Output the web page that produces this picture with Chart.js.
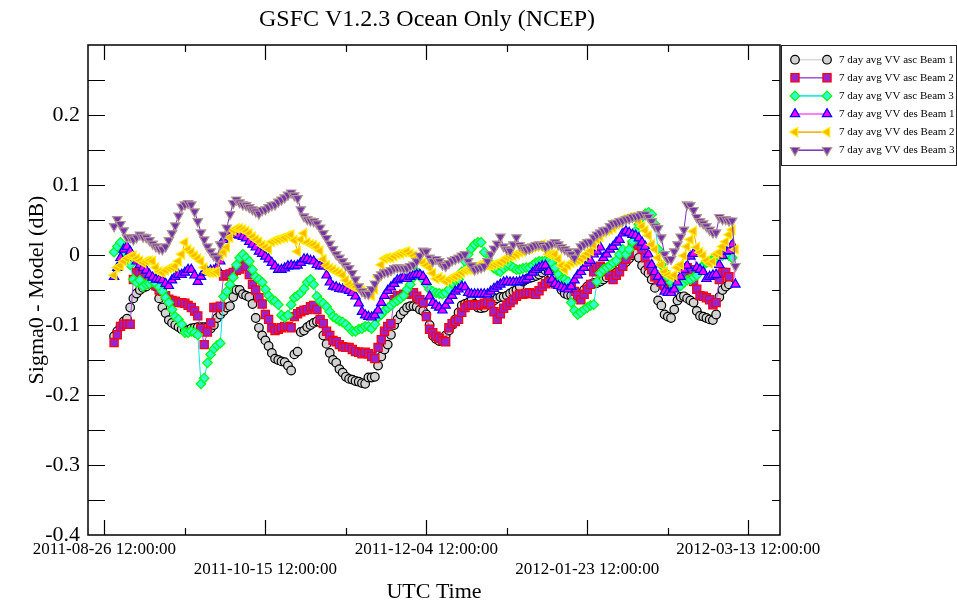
<!DOCTYPE html>
<html>
<head>
<meta charset="utf-8">
<title>GSFC V1.2.3 Ocean Only (NCEP)</title>
<script src="https://cdn.jsdelivr.net/npm/chart.js"></script>
<style>
  body { margin: 0; background: #fff; }
  canvas { display: block; }
</style>
</head>
<body>
<canvas id="myChart" width="957" height="601"></canvas>
<script>
// tick labels on the time axis
const xTickLabels = ["2011-08-26 12:00:00", "2011-10-15 12:00:00", "2011-12-04 12:00:00",
  "2012-01-23 12:00:00", "2012-03-13 12:00:00"];
// first daily sample of every series
const startDate = "2011-08-29 12:00:00";

const seriesNames = ["7 day avg VV asc Beam 1", "7 day avg VV asc Beam 2", "7 day avg VV asc Beam 3",
  "7 day avg VV des Beam 1", "7 day avg VV des Beam 2", "7 day avg VV des Beam 3"];

// daily values (dB)
const ascBeam1 = [-0.116,-0.109,-0.102,-0.095,-0.091,-0.075,-0.062,-0.055,-0.05,-0.047,
  -0.045,-0.041,-0.038,-0.045,-0.062,-0.075,-0.083,-0.093,-0.097,-0.1,
  -0.103,-0.106,-0.108,-0.107,-0.105,-0.104,-0.103,-0.103,-0.103,-0.103,
  -0.105,-0.1,-0.09,-0.085,-0.08,-0.075,-0.073,-0.06,-0.05,-0.05,
  -0.056,-0.058,-0.06,-0.07,-0.09,-0.104,-0.115,-0.122,-0.13,-0.14,
  -0.148,-0.15,-0.152,-0.153,-0.158,-0.165,-0.142,-0.138,-0.11,-0.108,
  -0.103,-0.1,-0.097,-0.095,-0.096,-0.115,-0.127,-0.14,-0.15,-0.154,
  -0.163,-0.168,-0.174,-0.177,-0.178,-0.18,-0.181,-0.183,-0.184,-0.175,
  -0.175,-0.174,-0.158,-0.145,-0.135,-0.128,-0.114,-0.1,-0.092,-0.085,
  -0.08,-0.075,-0.073,-0.073,-0.074,-0.078,-0.08,-0.085,-0.1,-0.115,
  -0.12,-0.123,-0.12,-0.115,-0.108,-0.1,-0.092,-0.082,-0.072,-0.07,
  -0.068,-0.065,-0.07,-0.075,-0.076,-0.075,-0.07,-0.068,-0.065,-0.062,
  -0.06,-0.06,-0.058,-0.055,-0.052,-0.05,-0.045,-0.038,-0.035,-0.033,
  -0.032,-0.03,-0.028,-0.025,-0.022,-0.025,-0.028,-0.03,-0.04,-0.05,
  -0.055,-0.057,-0.058,-0.06,-0.058,-0.055,-0.05,-0.045,-0.042,-0.04,
  -0.04,-0.038,-0.035,-0.032,-0.03,-0.028,-0.025,-0.02,-0.015,-0.01,
  -0.005,0.0,0.002,-0.004,-0.015,-0.022,-0.026,-0.035,-0.047,-0.065,
  -0.072,-0.085,-0.088,-0.09,-0.078,-0.065,-0.06,-0.059,-0.062,-0.065,
  -0.068,-0.08,-0.087,-0.088,-0.09,-0.092,-0.093,-0.085,-0.06,-0.05,-0.045,-0.042];

const ascBeam2 = [-0.125,-0.114,-0.102,-0.099,-0.099,-0.099,-0.035,-0.025,-0.025,-0.029,
  -0.032,-0.036,-0.04,-0.044,-0.05,-0.052,-0.058,-0.063,-0.065,-0.066,
  -0.068,-0.068,-0.069,-0.072,-0.075,-0.08,-0.087,-0.105,-0.128,-0.11,
  -0.097,-0.075,-0.075,-0.073,-0.03,-0.028,-0.027,-0.025,-0.022,-0.02,
  -0.009,-0.016,-0.028,-0.042,-0.05,-0.061,-0.07,-0.085,-0.092,-0.104,
  -0.108,-0.106,-0.104,-0.102,-0.102,-0.104,-0.088,-0.084,-0.081,-0.079,
  -0.078,-0.074,-0.072,-0.078,-0.092,-0.098,-0.109,-0.115,-0.122,-0.124,
  -0.128,-0.131,-0.132,-0.132,-0.135,-0.138,-0.139,-0.141,-0.139,-0.141,
  -0.145,-0.148,-0.132,-0.121,-0.109,-0.102,-0.098,-0.064,-0.058,-0.058,
  -0.056,-0.056,-0.054,-0.054,-0.059,-0.064,-0.068,-0.088,-0.106,-0.111,
  -0.116,-0.119,-0.122,-0.124,-0.104,-0.098,-0.095,-0.092,-0.082,-0.075,
  -0.072,-0.071,-0.072,-0.072,-0.071,-0.069,-0.068,-0.071,-0.081,-0.092,
  -0.084,-0.076,-0.072,-0.068,-0.064,-0.059,-0.056,-0.056,-0.055,-0.054,
  -0.055,-0.056,-0.051,-0.045,-0.041,-0.038,-0.039,-0.041,-0.041,-0.039,
  -0.038,-0.042,-0.046,-0.052,-0.058,-0.064,-0.056,-0.049,-0.042,-0.024,
  -0.018,-0.016,-0.018,-0.024,-0.029,-0.035,-0.029,-0.024,-0.016,-0.006,
  0.002,0.014,0.022,0.015,0.008,-0.004,-0.014,-0.021,-0.031,-0.035,
  -0.039,-0.044,-0.048,-0.049,-0.045,-0.041,-0.035,-0.026,-0.018,-0.021,
  -0.038,-0.049,-0.058,-0.059,-0.061,-0.064,-0.071,-0.068,-0.035,-0.025,-0.025,-0.031];

const ascBeam3 = [0.004,0.012,0.018,0.005,-0.004,-0.014,-0.035,-0.039,-0.036,-0.045,
  -0.042,-0.041,-0.038,-0.041,-0.046,-0.052,-0.061,-0.068,-0.078,-0.088,
  -0.092,-0.099,-0.111,-0.111,-0.109,-0.111,-0.114,-0.184,-0.176,-0.154,
  -0.142,-0.134,-0.129,-0.126,-0.059,-0.052,-0.042,-0.032,-0.014,-0.004,
  0.001,-0.004,-0.009,-0.021,-0.031,-0.035,-0.039,-0.049,-0.058,-0.064,
  -0.066,-0.071,-0.086,-0.089,-0.086,-0.071,-0.061,-0.058,-0.054,-0.048,
  -0.039,-0.035,-0.042,-0.059,-0.066,-0.069,-0.074,-0.081,-0.088,-0.091,
  -0.094,-0.096,-0.099,-0.104,-0.109,-0.109,-0.106,-0.105,-0.102,-0.102,
  -0.105,-0.099,-0.089,-0.085,-0.079,-0.076,-0.072,-0.068,-0.065,-0.062,
  -0.058,-0.049,-0.042,-0.032,-0.024,-0.028,-0.035,-0.042,-0.049,-0.052,
  -0.054,-0.055,-0.056,-0.054,-0.049,-0.041,-0.036,-0.035,-0.024,-0.009,
  0.001,0.009,0.015,0.018,0.018,0.004,-0.008,-0.015,-0.019,-0.022,
  -0.024,-0.019,-0.016,-0.015,-0.018,-0.021,-0.021,-0.019,-0.018,-0.018,
  -0.015,-0.011,-0.009,-0.009,-0.008,-0.008,-0.011,-0.018,-0.028,-0.035,
  -0.035,-0.038,-0.068,-0.079,-0.085,-0.082,-0.078,-0.075,-0.072,-0.071,
  -0.038,-0.026,-0.021,-0.018,-0.015,-0.011,-0.008,0.001,0.008,0.001,
  0.008,0.019,0.034,0.044,0.054,0.059,0.061,0.058,0.044,0.008,
  -0.014,-0.024,-0.032,-0.039,-0.045,-0.046,-0.044,-0.039,-0.036,-0.035,
  -0.032,-0.029,-0.021,-0.015,-0.011,-0.009,-0.006,-0.004,-0.002,-0.001,0.001,-0.001,-0.004];

const desBeam1 = [-0.031,-0.018,-0.004,0.008,0.012,0.005,-0.004,-0.009,-0.014,-0.018,
  -0.022,-0.028,-0.032,-0.035,-0.035,-0.036,-0.041,-0.044,-0.036,-0.031,
  -0.028,-0.028,-0.025,-0.021,-0.021,-0.029,-0.038,-0.031,-0.025,-0.024,
  -0.022,-0.022,-0.018,-0.009,0.022,0.026,0.029,0.031,0.029,0.028,
  0.026,0.024,0.019,0.015,0.011,0.005,0.002,-0.002,-0.006,-0.011,
  -0.016,-0.021,-0.021,-0.019,-0.016,-0.015,-0.016,-0.015,-0.011,-0.006,
  -0.006,-0.008,-0.009,-0.014,-0.016,-0.016,-0.029,-0.039,-0.045,-0.046,
  -0.048,-0.049,-0.049,-0.051,-0.054,-0.059,-0.069,-0.081,-0.086,-0.088,
  -0.089,-0.086,-0.079,-0.068,-0.058,-0.051,-0.046,-0.041,-0.036,-0.034,
  -0.032,-0.034,-0.031,-0.029,-0.028,-0.028,-0.031,-0.038,-0.059,-0.068,
  -0.072,-0.075,-0.079,-0.072,-0.065,-0.058,-0.052,-0.049,-0.045,-0.046,
  -0.054,-0.056,-0.056,-0.056,-0.056,-0.056,-0.056,-0.052,-0.048,-0.045,
  -0.042,-0.039,-0.038,-0.039,-0.039,-0.039,-0.038,-0.036,-0.035,-0.031,
  -0.025,-0.021,-0.018,-0.016,-0.015,-0.024,-0.035,-0.041,-0.044,-0.046,
  -0.048,-0.049,-0.045,-0.036,-0.029,-0.024,-0.018,-0.012,-0.008,0.001,
  0.005,0.011,-0.004,0.001,0.008,0.012,0.018,0.022,0.031,0.034,
  0.032,0.029,0.028,0.024,0.018,0.012,0.001,-0.014,-0.024,-0.031,
  -0.039,-0.052,-0.054,-0.054,-0.049,-0.039,-0.031,-0.021,-0.015,-0.002,
  0.002,-0.018,-0.021,-0.024,-0.034,-0.031,-0.029,-0.028,-0.014,-0.001,0.005,0.006,0.015,-0.042];

const desBeam2 = [-0.029,-0.018,-0.015,-0.009,-0.005,-0.002,-0.001,-0.005,-0.008,-0.011,
  -0.009,-0.008,-0.009,-0.018,-0.024,-0.025,-0.022,-0.019,-0.018,-0.016,
  -0.009,0.001,0.018,0.008,0.004,-0.001,-0.005,-0.009,-0.018,-0.025,
  -0.025,-0.025,-0.024,-0.001,0.004,0.011,0.025,0.035,0.038,0.038,
  0.036,0.034,0.031,0.026,0.022,0.019,0.014,0.011,0.008,0.019,
  0.021,0.022,0.024,0.025,0.028,0.029,0.021,0.005,0.022,0.031,
  0.018,0.015,0.014,0.011,0.006,-0.006,-0.015,-0.019,-0.021,-0.024,
  -0.026,-0.029,-0.036,-0.042,-0.045,-0.046,-0.049,-0.051,-0.054,-0.056,
  -0.058,-0.049,-0.031,-0.014,-0.005,-0.004,-0.004,-0.002,0.001,0.002,
  0.004,0.005,0.002,-0.001,-0.004,-0.006,-0.011,-0.015,-0.018,-0.026,
  -0.034,-0.032,-0.035,-0.038,-0.035,-0.032,-0.031,-0.028,-0.025,-0.022,
  -0.021,-0.021,-0.018,-0.015,-0.014,-0.014,-0.015,-0.015,-0.014,-0.012,
  -0.011,-0.008,-0.004,-0.002,-0.001,0.001,0.004,0.005,0.008,0.009,
  0.011,0.012,0.014,0.015,0.008,0.001,0.001,0.001,-0.006,-0.015,
  -0.021,-0.015,-0.011,-0.009,-0.008,-0.006,-0.002,0.002,0.006,0.014,
  0.022,0.026,0.032,0.035,0.036,0.039,0.044,0.046,0.051,0.052,
  0.054,0.054,0.054,0.048,0.041,0.035,0.028,0.015,0.008,-0.004,
  -0.014,-0.024,-0.029,-0.031,-0.029,-0.018,-0.014,-0.001,0.012,0.022,
  0.034,0.011,0.004,-0.001,-0.008,-0.012,-0.009,0.001,0.004,0.012,0.019,0.029,0.036,0.008];

const desBeam3 = [0.041,0.051,0.044,0.035,0.025,0.025,0.022,0.025,0.029,0.026,
  0.025,0.021,0.016,0.012,0.009,0.008,0.012,0.021,0.031,0.042,
  0.056,0.069,0.072,0.074,0.072,0.062,0.048,0.032,0.022,0.012,
  0.005,-0.001,-0.005,0.015,0.029,0.039,0.058,0.074,0.079,0.075,
  0.072,0.071,0.068,0.065,0.062,0.059,0.064,0.065,0.068,0.071,
  0.072,0.076,0.079,0.082,0.086,0.089,0.085,0.081,0.065,0.055,
  0.051,0.049,0.048,0.045,0.039,0.031,0.024,0.016,0.008,0.001,
  -0.004,-0.009,-0.015,-0.019,-0.026,-0.035,-0.045,-0.052,-0.055,-0.056,
  -0.049,-0.041,-0.032,-0.028,-0.025,-0.024,-0.022,-0.019,-0.018,-0.018,
  -0.019,-0.019,-0.016,-0.014,-0.009,-0.001,0.006,0.005,-0.004,-0.009,
  -0.006,-0.009,-0.014,-0.016,-0.012,-0.008,-0.006,-0.004,-0.001,0.001,
  -0.009,-0.015,-0.021,-0.019,-0.018,-0.016,-0.009,0.001,0.009,0.016,
  0.026,0.012,0.008,0.006,0.015,0.025,0.014,0.011,0.008,0.009,
  0.012,0.014,0.015,0.014,0.011,0.014,0.016,0.018,0.015,0.011,
  0.008,0.005,0.001,-0.004,0.005,0.012,0.015,0.018,0.019,0.025,
  0.029,0.032,0.035,0.036,0.041,0.045,0.046,0.048,0.049,0.051,
  0.052,0.054,0.055,0.056,0.058,0.058,0.054,0.048,0.041,0.038,
  0.025,0.001,-0.006,-0.006,0.005,0.015,0.026,0.036,0.072,0.071,
  0.064,0.054,0.048,0.045,0.041,0.036,0.032,0.032,0.054,0.051,0.051,0.049,0.049,-0.016];

const DAY = 86400000;
const FONT = "'Liberation Serif', 'DejaVu Serif', serif";

function parseUtc(s) {
  const [d, t] = s.split(" ");
  const [Y, M, D] = d.split("-").map(Number);
  const [h, m, sec] = t.split(":").map(Number);
  return Date.UTC(Y, M - 1, D, h, m, sec);
}

const xTickValues = xTickLabels.map(parseUtc);
const t0 = parseUtc(startDate);

// turn a daily list into {x, y} points
function toPoints(values) {
  return values.map((v, i) => ({ x: t0 + i * DAY, y: v }));
}

// marker / line styles per series
const styles = [
  { line: "#d8d8d8", fill: "#d3d3d3", edge: "#000000", shape: "circle", r: 4.3, rot: 0 },
  { line: "#a050d8", fill: "#9a22d0", edge: "#ff0000", shape: "rect", r: 5.8, rot: 0 },
  { line: "#00e8e8", fill: "#30ffd0", edge: "#00ff00", shape: "rectRot", r: 4.8, rot: 0 },
  { line: "#ff55ff", fill: "#ff00ff", edge: "#0000ff", shape: "triangle", r: 5.4, rot: 0 },
  { line: "#ffa500", fill: "#ffb800", edge: "#ffee00", shape: "triangle", r: 5.4, rot: -90 },
  { line: "#7a2ec0", fill: "#7434a8", edge: "#b09494", shape: "triangle", r: 5.4, rot: 180 }
];

const allSeries = [ascBeam1, ascBeam2, ascBeam3, desBeam1, desBeam2, desBeam3];

const datasets = allSeries.map((vals, i) => ({
  label: seriesNames[i],
  data: toPoints(vals),
  borderColor: styles[i].line,
  backgroundColor: styles[i].fill,
  borderWidth: 1,
  pointStyle: styles[i].shape,
  pointRadius: styles[i].r,
  pointRotation: styles[i].rot,
  pointBackgroundColor: styles[i].fill,
  pointBorderColor: styles[i].edge,
  pointBorderWidth: 1.2,
  tension: 0,
  order: 6 - i
}));

// draw one marker the same way the chart does
function drawMarker(ctx, st, x, y) {
  const r = st.r;
  ctx.save();
  ctx.fillStyle = st.fill;
  ctx.strokeStyle = st.edge;
  ctx.lineWidth = 1.2;
  ctx.beginPath();
  if (st.shape === "circle") {
    ctx.arc(x, y, r, 0, Math.PI * 2);
  } else if (st.shape === "rect") {
    const s = r * Math.SQRT1_2;
    ctx.rect(x - s, y - s, 2 * s, 2 * s);
  } else if (st.shape === "rectRot") {
    ctx.moveTo(x, y - r); ctx.lineTo(x + r, y); ctx.lineTo(x, y + r); ctx.lineTo(x - r, y);
    ctx.closePath();
  } else {
    let a = st.rot * Math.PI / 180;
    for (let k = 0; k < 3; k++) {
      const px = x + Math.sin(a) * r, py = y - Math.cos(a) * r;
      if (k === 0) ctx.moveTo(px, py); else ctx.lineTo(px, py);
      a += Math.PI * 2 / 3;
    }
    ctx.closePath();
  }
  ctx.fill();
  ctx.stroke();
  ctx.restore();
}

// frame with inward ticks on all four sides
const frameTicks = {
  id: "frameTicks",
  afterDatasetsDraw(chart) {
    const { ctx, chartArea: a, scales: { x, y } } = chart;
    ctx.save();
    ctx.strokeStyle = "#000";
    ctx.lineWidth = 1.2;
    ctx.beginPath();
    for (let k = -8; k <= 6; k++) {
      const py = Math.round(y.getPixelForValue(k * 0.05)) + 0.5;
      if (py <= a.top + 1 || py >= a.bottom - 1) continue;
      const major = k % 2 === 0;
      ctx.moveTo(a.left, py); ctx.lineTo(a.left + 17, py);
      ctx.moveTo(a.right, py); ctx.lineTo(a.right - (major ? 17 : 8), py);
    }
    for (let k = -2; k <= 10; k++) {
      const v = xTickValues[0] + k * 25 * DAY;
      const px = Math.round(x.getPixelForValue(v)) + 0.5;
      if (px <= a.left + 1 || px >= a.right - 1) continue;
      const len = k % 2 === 0 ? 15 : 7;
      ctx.moveTo(px, a.bottom); ctx.lineTo(px, a.bottom - len);
      ctx.moveTo(px, a.top); ctx.lineTo(px, a.top + len);
    }
    ctx.stroke();
    ctx.lineWidth = 1.5;
    ctx.strokeRect(a.left, a.top, a.right - a.left, a.bottom - a.top);
    ctx.restore();
  }
};

// title and boxed legend at the top right
const titleLegend = {
  id: "titleLegend",
  afterDraw(chart) {
    const { ctx, chartArea: a } = chart;
    ctx.save();
    ctx.fillStyle = "#000";
    ctx.font = "24px " + FONT;
    ctx.textAlign = "center";
    ctx.textBaseline = "middle";
    ctx.fillText("GSFC V1.2.3 Ocean Only (NCEP)", 427, 20);

    const bx = a.right + 1, by = a.top, bw = 956 - bx, bh = 120;
    ctx.strokeStyle = "#222";
    ctx.lineWidth = 1;
    ctx.strokeRect(bx + 0.5, by + 0.5, bw, bh);
    ctx.font = "11px " + FONT;
    ctx.textAlign = "left";
    seriesNames.forEach((name, i) => {
      const cy = by + 14.7 + i * 18.1;
      const st = styles[i];
      ctx.strokeStyle = st.line;
      ctx.lineWidth = 1.5;
      ctx.beginPath();
      ctx.moveTo(bx + 14, cy); ctx.lineTo(bx + 46, cy);
      ctx.stroke();
      drawMarker(ctx, st, bx + 14, cy);
      drawMarker(ctx, st, bx + 46, cy);
      ctx.fillStyle = "#000";
      ctx.fillText(name, bx + 58, cy);
    });
    ctx.restore();
  }
};

new Chart("myChart", {
  type: "line",
  data: { datasets: datasets },
  options: {
    responsive: false,
    animation: false,
    devicePixelRatio: 1,
    layout: { padding: { top: 45, right: 177, left: 0, bottom: 0 } },
    plugins: {
      legend: { display: false },
      tooltip: { enabled: false },
      title: { display: false }
    },
    scales: {
      x: {
        type: "linear",
        min: xTickValues[0] - 5.1 * DAY,
        max: xTickValues[4] + 9.85 * DAY,
        grid: { display: false, drawTicks: false },
        border: { display: false },
        afterBuildTicks: (s) => { s.ticks = xTickValues.map((v) => ({ value: v })); },
        afterFit: (s) => { s.height = 66; },
        ticks: {
          autoSkip: false,
          maxRotation: 0,
          padding: 4,
          color: "#000",
          font: { family: FONT, size: 17 },
          callback: (v, i) => (i % 2 ? ["", xTickLabels[i]] : xTickLabels[i])
        },
        title: {
          display: true,
          text: "UTC Time",
          color: "#000",
          font: { family: FONT, size: 22, lineHeight: 0.8 },
          padding: 0
        }
      },
      y: {
        min: -0.4,
        max: 0.3,
        grid: { display: false, drawTicks: false },
        border: { display: false },
        afterFit: (s) => { s.width = 88; },
        ticks: {
          stepSize: 0.1,
          padding: 8,
          color: "#000",
          font: { family: FONT, size: 22 },
          callback: (v) => (v > 0.25 ? "" : String(Math.round(v * 10) / 10))
        },
        title: {
          display: true,
          text: "Sigma0 - Model (dB)",
          color: "#000",
          font: { family: FONT, size: 22 },
          padding: { top: 24, bottom: 0 }
        }
      }
    }
  },
  plugins: [frameTicks, titleLegend]
});
</script>
</body>
</html>
